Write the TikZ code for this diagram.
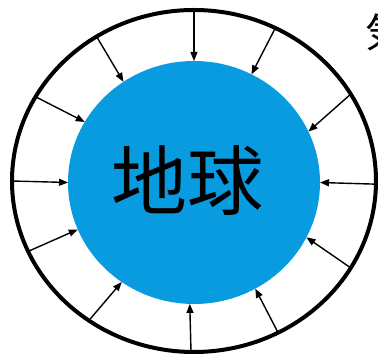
\documentclass[tikz,border=0pt]{standalone}
\usepackage{fontspec}
\newfontfamily\jpfont{Noto Sans CJK JP}
\usepackage{tikz}
\usetikzlibrary{arrows.meta,shapes.geometric}

\definecolor{earthblue}{RGB}{8,155,224}

\begin{document}
\begin{tikzpicture}[x=1pt, y=1pt,
    press/.style={-{Triangle[length=9pt,width=7pt]}, line width=1.4pt}]
    \useasboundingbox (0,0) rectangle (378,355);

    % Atmosphere and earth
    \node[draw, ellipse, line width=4pt, minimum width=364pt, minimum height=342pt,
        inner sep=0pt, outer sep=0pt] (sky) at (194,174) {};
    \node[ellipse, fill=earthblue, minimum width=252pt, minimum height=243pt,
        inner sep=0pt, outer sep=0pt] (earth) at (194,172.5) {};
    \node[font=\jpfont\fontsize{76}{76}\selectfont] (name) at (187,174) {地球};

    % Pressure from all sides
    \draw[press] (sky.90) -- (earth.90);
    \draw[press] (sky.62.7) -- (earth.62);
    \draw[press] (sky.29.4) -- (earth.24.5);
    \draw[press] (sky.-1) -- (earth.0);
    \draw[press] (sky.-29) -- (earth.-26);
    \draw[press] (sky.-61.5) -- (earth.-60);
    \draw[press] (sky.-91) -- (earth.-92);
    \draw[press] (sky.-127) -- (earth.-126);
    \draw[press] (sky.-157) -- (earth.-158);
    \draw[press] (sky.180.5) -- (earth.180);
    \draw[press] (sky.152.6) -- (earth.151);
    \draw[press] (sky.124) -- (earth.125);

    \node[font=\jpfont\fontsize{40}{40}\selectfont, anchor=west, inner sep=0pt] (air) at (365,323) {気圧};
\end{tikzpicture}
\end{document}
